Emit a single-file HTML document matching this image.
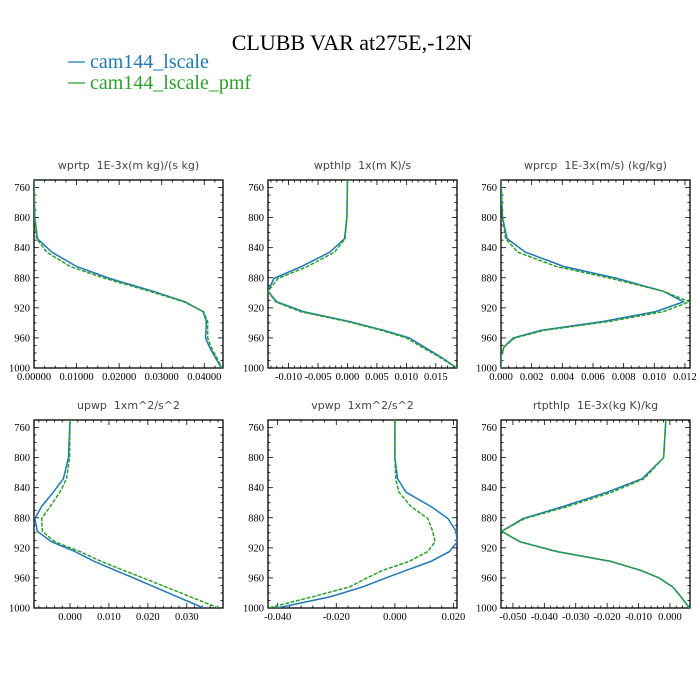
<!DOCTYPE html>
<html><head><meta charset="utf-8"><style>
body{margin:0;background:#fff;}
svg{display:block;}
.tl{font-family:"Liberation Serif",serif;font-size:10.5px;fill:#000;}
.pt{font-family:"DejaVu Sans","Liberation Sans",sans-serif;font-size:11px;fill:#444;white-space:pre;}
</style></head><body>
<svg id="chart" width="700" height="700" viewBox="0 0 700 700">
<text x="352" y="50" text-anchor="middle" font-family="Liberation Serif,serif" font-size="22">CLUBB VAR at275E,-12N</text>
<g>
<line x1="68" x2="85" y1="62" y2="62" stroke="#1f77b4" stroke-width="1.2"/>
<text x="90" y="68" font-family="Liberation Serif,serif" font-size="20" fill="#1f77b4">cam144_lscale</text>
<line x1="68" x2="85" y1="83" y2="83" stroke="#2ca02c" stroke-width="1.2"/>
<text x="90" y="89" font-family="Liberation Serif,serif" font-size="20" fill="#2ca02c">cam144_lscale_pmf</text>
</g>
</svg>
<script>
const levels=[750,800,828,846,865,881,898,912,925,938,950,960,972,985,1000];
const panelTitles=["wprtp  1E-3x(m kg)/(s kg)","wpthlp  1x(m K)/s","wprcp  1E-3x(m/s) (kg/kg)","upwp  1xm^2/s^2","vpwp  1xm^2/s^2","rtpthlp  1E-3x(kg K)/kg"];
const yTicks=[760,800,840,880,920,960,1000];
const xTicks1=["0.00000","0.01000","0.02000","0.03000","0.04000"];
const xTicks2=["-0.010","-0.005","0.000","0.005","0.010","0.015"];
const xTicks3=["0.000","0.002","0.004","0.006","0.008","0.010","0.012"];
const xTicks4=["0.000","0.010","0.020","0.030"];
const xTicks5=["-0.040","-0.020","0.000","0.020"];
const xTicks6=["-0.050","-0.040","-0.030","-0.020","-0.010","0.000"];
const wprtpA=[0,0.0002,0.0008,0.0042,0.0100,0.0178,0.0280,0.0355,0.0397,0.0405,0.0404,0.0403,0.0412,0.0425,0.0440];
const wprtpB=[0,0.0001,0.0006,0.0030,0.0085,0.0168,0.0272,0.0352,0.0398,0.0408,0.0408,0.0408,0.0416,0.0428,0.0442];
const wpthlpA=[0,-0.0001,-0.0005,-0.0030,-0.0078,-0.0125,-0.0135,-0.0120,-0.0075,0.0002,0.0062,0.0105,0.0130,0.0158,0.0186];
const wpthlpB=[0,-0.0001,-0.0004,-0.0022,-0.0068,-0.0118,-0.0135,-0.0122,-0.0080,-0.0002,0.0058,0.0100,0.0126,0.0155,0.0186];
const wprcpA=[0,0.0001,0.0004,0.0016,0.0041,0.0076,0.0106,0.0119,0.0101,0.0067,0.0026,0.0008,0.0002,0,0];
const wprcpB=[0,0.0001,0.0003,0.0011,0.0036,0.0072,0.0106,0.0123,0.0106,0.0071,0.0028,0.0009,0.0002,0,0];
const upwpA=[0,-0.0004,-0.0017,-0.0043,-0.0073,-0.0090,-0.0084,-0.0047,0.0013,0.0062,0.0117,0.0163,0.0217,0.0275,0.0343];
const upwpB=[0,-0.0001,-0.0009,-0.0026,-0.0051,-0.0073,-0.0071,-0.0039,0.0026,0.0080,0.0138,0.0188,0.0246,0.0309,0.0381];
const vpwpA=[0,0,0.0009,0.0038,0.0123,0.0181,0.0209,0.0213,0.0186,0.0123,0.0038,-0.0031,-0.0110,-0.0220,-0.0402];
const vpwpB=[0,0,0.0003,0.0014,0.0055,0.0112,0.0129,0.0137,0.0112,0.0049,-0.0042,-0.0095,-0.0155,-0.0280,-0.0432];
const rtpthlpA=[-0.0013,-0.0020,-0.0088,-0.0200,-0.0340,-0.0468,-0.0536,-0.0478,-0.0360,-0.0189,-0.0093,-0.0035,0.0009,0.0035,0.0062];
const rtpthlpB=[-0.0013,-0.0020,-0.0082,-0.0185,-0.0325,-0.0462,-0.0536,-0.0476,-0.0358,-0.0188,-0.0092,-0.0034,0.0009,0.0035,0.0062];

const NS="http://www.w3.org/2000/svg";
const svg=document.getElementById('chart');
function mk(tag,attrs,parent){const e=document.createElementNS(NS,tag);for(const k in attrs)e.setAttribute(k,attrs[k]);parent.appendChild(e);return e;}
const panels=[
 {x0:34,y0:180,xmin:0,xmax:0.0444,ticks:xTicks1,minor:0.0025,A:wprtpA,B:wprtpB,name:"wprtp"},
 {x0:268,y0:180,xmin:-0.0135,xmax:0.0186,ticks:xTicks2,minor:0.001,A:wpthlpA,B:wpthlpB,name:"wpthlp"},
 {x0:501,y0:180,xmin:0,xmax:0.01233,ticks:xTicks3,minor:0.0005,A:wprcpA,B:wprcpB,name:"wprcp"},
 {x0:34,y0:420,xmin:-0.00925,xmax:0.0393,ticks:xTicks4,minor:0.002,A:upwpA,B:upwpB,name:"upwp"},
 {x0:268,y0:420,xmin:-0.0433,xmax:0.0212,ticks:xTicks5,minor:0.004,A:vpwpA,B:vpwpB,name:"vpwp"},
 {x0:501,y0:420,xmin:-0.0538,xmax:0.0064,ticks:xTicks6,minor:0.002,A:rtpthlpA,B:rtpthlpB,name:"rtpthlp"}
];
const W=189,H=188;
panels.forEach((p,i)=>{
 const g=mk('g',{},svg);
 
 
 const sx=v=>p.x0+(v-p.xmin)/(p.xmax-p.xmin)*W;
 const sy=v=>p.y0+(v-750)/250*H;
 const t=mk('text',{x:p.x0+W/2,y:p.y0-11,'text-anchor':'middle','class':'pt'},g);
 t.textContent=panelTitles[i];
 
 
 for(let v=750;v<=1000;v+=10){
  const y=sy(v);const major=(v-760)%40===0;const L=major?5:2.5;
  mk('line',{x1:p.x0,x2:p.x0+L,y1:y,y2:y,stroke:'#000','stroke-width':0.8},g);
  mk('line',{x1:p.x0+W,x2:p.x0+W-L,y1:y,y2:y,stroke:'#000','stroke-width':0.8},g);
 }
 yTicks.forEach(v=>{const tt=mk('text',{x:p.x0-4,y:sy(v)+3.5,'text-anchor':'end','class':'tl'},g);tt.textContent=v;
  
  });
 const start=Math.ceil(p.xmin/p.minor-1e-6);
 for(let k=start;k*p.minor<=p.xmax+1e-9;k++){
  const v=k*p.minor;const x=sx(v);
  const major=p.ticks.some(s=>Math.abs(parseFloat(s)-v)<p.minor/10);const L=major?5:2.5;
  mk('line',{x1:x,x2:x,y1:p.y0+H,y2:p.y0+H-L,stroke:'#000','stroke-width':0.8},g);
  mk('line',{x1:x,x2:x,y1:p.y0,y2:p.y0+L,stroke:'#000','stroke-width':0.8},g);
 }
 p.ticks.forEach(s=>{const tt=mk('text',{x:sx(parseFloat(s)),y:p.y0+H+12,'text-anchor':'middle','class':'tl'},g);tt.textContent=s;
  
  });
 const r=mk('rect',{x:p.x0,y:p.y0,width:W,height:H,fill:'none',stroke:'#000','stroke-width':1.3},g);
 
 
 const cp=mk('clipPath',{id:'c'+i},g);mk('rect',{x:p.x0,y:p.y0,width:W,height:H},cp);
 const mkLine=(arr,col,dash,nm)=>{
  const pts=arr.map((v,j)=>sx(v).toFixed(2)+','+sy(levels[j]).toFixed(2)).join(' ');
  const pl=mk('polyline',{points:pts,fill:'none',stroke:col,'stroke-width':1.5,'clip-path':'url(#c'+i+')'},g);
  if(dash)pl.setAttribute('stroke-dasharray',dash);
  
  
 };
 mkLine(p.A,'#1f77b4',null,'series-lscale');
 mkLine(p.B,'#2ca02c','4,1.5','series-lscale-pmf');
});
</script>
</body></html>
